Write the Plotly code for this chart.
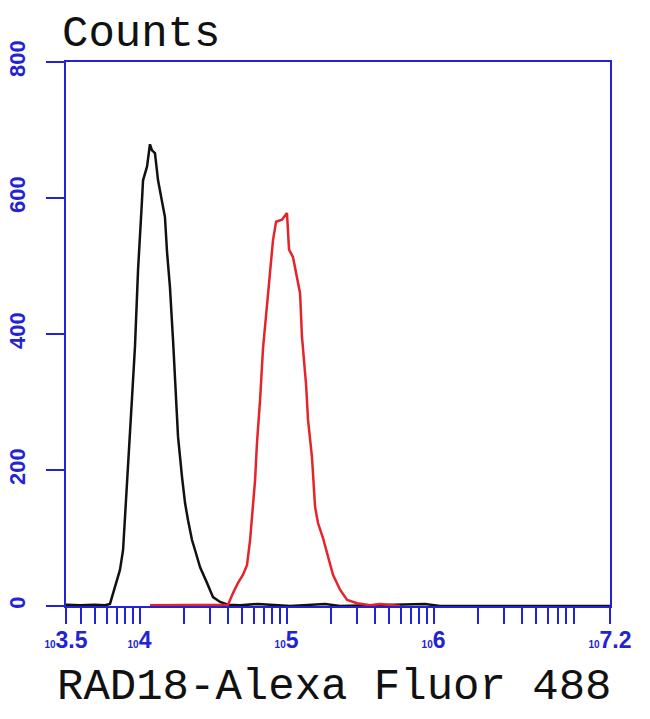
import plotly.graph_objects as go

# log10 fluorescence intensity and counts
black_log = [3.500, 3.595, 3.697, 3.765, 3.799, 3.833, 3.867, 3.888, 3.901, 3.922, 3.949, 3.969,
             3.990, 4.017, 4.024, 4.051, 4.071, 4.085, 4.105, 4.126, 4.153, 4.173, 4.187, 4.207,
             4.228, 4.248, 4.262, 4.289, 4.310, 4.330, 4.357, 4.378, 4.412, 4.459, 4.500, 4.548,
             4.602, 4.684, 4.806, 4.888, 5.024, 5.262, 5.364, 5.942, 6.044, 7.2]
black_counts = [2, 1, 2, 1, 3, 28, 53, 82, 134, 215, 306, 381,
                494, 597, 626, 646, 679, 670, 666, 626, 597, 572, 521, 469,
                391, 307, 249, 190, 151, 126, 97, 82, 57, 34, 13, 6,
                2, 1, 3, 2, 0, 3, 0, 3, 0, 0]

red_log = [4.071, 4.412, 4.602, 4.636, 4.670, 4.704, 4.731, 4.752, 4.765, 4.786, 4.799, 4.820,
           4.840, 4.867, 4.888, 4.908, 4.929, 4.969, 5.003, 5.017, 5.044, 5.071, 5.092, 5.105,
           5.133, 5.146, 5.173, 5.194, 5.214, 5.248, 5.282, 5.316, 5.364, 5.412, 5.480, 5.568,
           5.636, 5.704, 5.772]
red_counts = [1, 1, 2, 19, 34, 46, 60, 97, 131, 185, 240, 303,
              379, 445, 494, 538, 565, 568, 578, 524, 513, 484, 460, 396,
              325, 274, 219, 146, 122, 100, 72, 46, 24, 9, 4, 1,
              3, 2, 0]

y_ticks = [0, 200, 400, 600, 800]
x_label_exps = ["3.5", "4", "5", "6", "7.2"]

BLUE = "#2323d6"

x_tickvals = [10 ** 3.5]
for e in range(3, 7):
    for m in range(1, 10):
        v = m * 10 ** e
        if v > 10 ** 3.5 and v < 10 ** 7.2:
            x_tickvals.append(v)
x_tickvals.append(10 ** 7.2)
label_pos = [10 ** 3.5, 1e4, 1e5, 1e6, 10 ** 7.2]
x_ticktext = []
for v in x_tickvals:
    lab = ""
    for k, t in zip(label_pos, x_label_exps):
        if abs(v - k) / k < 1e-9:
            lab = "<span style='font-size:10px'>10</span>" + t
    x_ticktext.append(lab)

fig = go.Figure()
fig.add_trace(go.Scatter(x=[10 ** v for v in black_log], y=black_counts, mode="lines",
                         line=dict(color="#111111", width=2.5), showlegend=False))
fig.add_trace(go.Scatter(x=[10 ** v for v in red_log], y=red_counts, mode="lines",
                         line=dict(color="#e5232a", width=2.5), showlegend=False))

fig.update_layout(
    width=650, height=719,
    margin=dict(l=66, r=40, t=62, b=113, autoexpand=False),
    paper_bgcolor="white", plot_bgcolor="white",
    xaxis=dict(type="log", range=[3.5, 7.2], showgrid=False, zeroline=False, automargin=False,
               showline=True, mirror=True, linecolor=BLUE, linewidth=2,
               tickmode="array", tickvals=x_tickvals, ticktext=x_ticktext,
               ticks="outside", ticklen=16, tickwidth=2, tickcolor=BLUE,
               ticklabelstandoff=-4,
               tickfont=dict(family="Liberation Sans", size=23, color=BLUE, weight="bold")),
    yaxis=dict(range=[0, 800], showgrid=False, zeroline=False, automargin=False,
               showline=True, mirror=True, linecolor=BLUE, linewidth=2,
               tickmode="array", tickvals=y_ticks, ticktext=[str(v) for v in y_ticks],
               ticks="outside", ticklen=18, tickwidth=2, tickcolor=BLUE, tickangle=-90,
               ticklabelstandoff=12,
               tickfont=dict(family="Liberation Sans", size=22, color=BLUE, weight="bold")),
)

fig.add_annotation(text="Counts", xref="paper", yref="paper", x=0, y=1,
                   xanchor="left", yanchor="bottom", xshift=-6, yshift=1, showarrow=False,
                   font=dict(family="Liberation Mono", size=44, color="#111111"))
fig.add_annotation(text="RAD18-Alexa Fluor 488", xref="paper", yref="paper", x=0.5, y=0,
                   xanchor="center", yanchor="top", xshift=-4, yshift=-54, showarrow=False,
                   font=dict(family="Liberation Mono", size=44, color="#111111"))

# remove the default 8px page margin so the figure fills the window exactly
fig.write_html("out.html", config={"displayModeBar": False},
               post_script="document.body.style.margin='0';")
